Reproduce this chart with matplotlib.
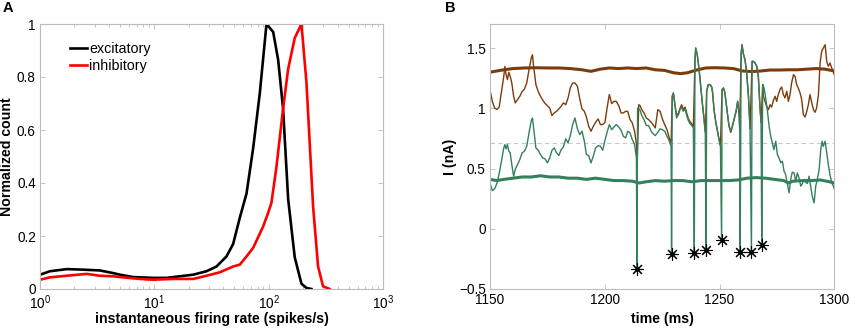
import numpy as np
import matplotlib
matplotlib.use("Agg")
import matplotlib.pyplot as plt
from matplotlib.ticker import NullFormatter, LogLocator

plt.rcParams['font.family'] = ['Liberation Sans', 'DejaVu Sans']
plt.rcParams['mathtext.fontset'] = 'custom'
plt.rcParams['mathtext.rm'] = 'Liberation Sans'
plt.rcParams['mathtext.it'] = 'Liberation Sans'

# ---------------- Panel A data ----------------
exc_rate = [1.0, 1.223, 1.71, 2.39, 3.34, 4.37, 5.0, 6.54, 9.78, 12.8, 16.7, 21.9, 28.6, 35.0,
            42.8, 48.9, 56.0, 64.0, 73.1, 83.7, 95.7, 109.5, 121, 133.7, 148, 169, 193.5, 214, 236.6]
exc_count = [0.054, 0.067, 0.075, 0.073, 0.070, 0.060, 0.054, 0.045, 0.042, 0.042, 0.048, 0.054,
             0.067, 0.085, 0.123, 0.17, 0.27, 0.36, 0.53, 0.74, 1.0, 0.97, 0.865, 0.68, 0.34,
             0.12, 0.02, 0.004, 0.0]
inh_rate = [1.0, 1.223, 1.71, 2.56, 3.34, 4.37, 5.0, 7.48, 9.78, 14.6, 21.9, 28.6, 37.4, 48.9,
            56.0, 64.0, 73.1, 89.5, 98.9, 105.7, 116.9, 133.7, 148, 169, 193.5, 214, 244.8,
            270.5, 299, 342]
inh_count = [0.035, 0.044, 0.050, 0.057, 0.050, 0.048, 0.045, 0.038, 0.035, 0.038, 0.038, 0.050,
             0.063, 0.085, 0.092, 0.123, 0.155, 0.236, 0.287, 0.325, 0.46, 0.68, 0.83, 0.947,
             1.0, 0.78, 0.31, 0.085, 0.01, 0.0]

# ---------------- Panel B data ----------------
green_t = [1150.0, 1151.0, 1152.0, 1153.0, 1154.0, 1155.0, 1156.0, 1156.5, 1157.0, 1157.6, 1158.2,
           1158.8, 1159.5, 1160.3, 1161.0, 1162.0, 1163.0, 1164.0, 1165.0, 1166.0, 1167.0, 1168.0,
           1168.5, 1169.0, 1170.0, 1171.0, 1172.0, 1173.0, 1174.0, 1175.0, 1176.0, 1177.0, 1178.0,
           1179.0, 1180.0, 1181.0, 1182.0, 1183.0, 1184.0, 1185.0, 1186.0, 1187.0, 1188.1, 1189.1,
           1190.1, 1191.1, 1192.0, 1193.0, 1194.0, 1195.0, 1196.0, 1197.1, 1198.1, 1199.1, 1200.1,
           1201.0, 1202.0, 1203.0, 1204.0, 1205.0, 1206.1, 1207.1, 1208.1, 1209.1, 1210.0, 1211.0,
           1212.0, 1213.0, 1213.8, 1214.3, 1215.4, 1216.1, 1217.1, 1218.1, 1219.1, 1220.2, 1221.0,
           1222.0, 1223.1, 1224.1, 1225.1, 1226.1, 1227.1, 1228.1, 1228.9, 1229.4, 1229.9, 1230.6,
           1231.3, 1232.1, 1232.8, 1233.5, 1234.2, 1235.0, 1235.7, 1236.4, 1237.1, 1237.9, 1238.6,
           1239.3, 1239.6, 1240.3, 1241.1, 1241.8, 1242.5, 1243.2, 1243.8, 1244.4, 1245.1, 1245.9,
           1246.6, 1247.0, 1247.6, 1248.3, 1249.1, 1249.8, 1250.4, 1251.1, 1251.7, 1252.2, 1252.8,
           1253.4, 1254.1, 1254.9, 1255.6, 1256.3, 1257.2, 1257.9, 1258.5, 1258.8, 1259.4, 1259.8,
           1260.4, 1261.1, 1261.8, 1262.6, 1263.3, 1264.2, 1264.7, 1265.5, 1266.2, 1266.9, 1267.6,
           1268.1, 1268.8, 1269.4, 1270.1, 1270.8, 1271.6, 1272.3, 1273.0, 1273.7, 1274.5, 1275.2,
           1275.9, 1276.7, 1277.4, 1278.1, 1278.8, 1279.6, 1280.3, 1281.0, 1281.7, 1282.5, 1283.2,
           1283.9, 1284.6, 1285.4, 1286.1, 1286.8, 1287.5, 1288.3, 1289.0, 1289.7, 1290.4, 1291.2,
           1291.9, 1292.6, 1293.4, 1294.1, 1294.7, 1295.2, 1296.0, 1296.7, 1297.4, 1298.1, 1298.9,
           1299.6, 1300.0]
green_I = [0.381, 0.317, 0.331, 0.376, 0.459, 0.561, 0.671, 0.699, 0.663, 0.699, 0.644,
           0.630, 0.533, 0.436, 0.492, 0.533, 0.575, 0.630, 0.644, 0.685, 0.796, 0.900,
           0.920, 0.837, 0.671, 0.652, 0.616, 0.588, 0.580, 0.547, 0.588, 0.652, 0.671,
           0.630, 0.608, 0.657, 0.680, 0.746, 0.713, 0.774, 0.865, 0.920, 0.829, 0.782,
           0.810, 0.727, 0.616, 0.608, 0.547, 0.602, 0.671, 0.690, 0.685, 0.652, 0.735,
           0.801, 0.865, 0.823, 0.845, 0.865, 0.845, 0.818, 0.768, 0.754, 0.810, 0.796,
           0.740, 0.699, 0.588, 1.003, 0.984, 0.940, 0.906, 0.857, 0.857, 0.810, 0.790,
           0.774, 0.801, 0.830, 0.823, 0.810, 0.768, 0.727, 0.685, 1.100, 1.127, 1.017,
           0.920, 0.948, 0.990, 1.010, 0.975, 0.995, 0.940, 0.900, 0.873, 0.857, 0.837,
           1.400, 1.500, 1.445, 1.320, 1.183, 1.045, 0.920, 0.796, 1.141, 1.197, 1.197,
           1.177, 1.127, 0.989, 0.893, 0.810, 0.740, 0.685, 1.155, 1.169, 1.141, 1.058,
           0.962, 0.851, 0.810, 0.851, 0.906, 0.975, 1.058, 0.962, 0.823, 1.450, 1.528,
           1.450, 1.404, 1.300, 1.100, 0.820, 1.390, 1.390, 1.376, 1.349, 1.266, 1.017,
           0.879, 1.197, 1.169, 1.086, 0.989, 0.851, 0.768, 0.713, 0.657, 0.727, 0.616,
           0.588, 0.547, 0.560, 0.478, 0.450, 0.367, 0.298, 0.409, 0.470, 0.464, 0.395,
           0.464, 0.423, 0.354, 0.376, 0.409, 0.387, 0.376, 0.436, 0.354, 0.270, 0.215,
           0.354, 0.409, 0.492, 0.657, 0.727, 0.685, 0.727, 0.630, 0.533, 0.450, 0.381,
           0.354, 0.330]

spike_t = [1214.0, 1229.1, 1239.0, 1244.1, 1250.9, 1259.0, 1263.9, 1268.4]
spike_I = [-0.332, -0.213, -0.205, -0.177, -0.097, -0.190, -0.194, -0.136]

brown_t = [1150.0, 1151.0, 1152.0, 1153.0, 1154.0, 1155.0, 1156.0, 1156.5, 1157.0, 1157.6, 1158.2,
           1158.8, 1159.5, 1160.3, 1161.0, 1162.0, 1163.0, 1164.0, 1165.0, 1166.0, 1167.0, 1168.0,
           1168.5, 1169.0, 1170.0, 1171.0, 1172.0, 1173.0, 1174.0, 1175.0, 1176.0, 1177.0, 1178.0,
           1179.0, 1180.0, 1181.0, 1182.0, 1183.0, 1184.0, 1185.0, 1186.0, 1187.0, 1188.1, 1189.1,
           1190.1, 1191.1, 1192.0, 1193.0, 1194.0, 1195.0, 1196.0, 1197.1, 1198.1, 1199.1, 1200.1,
           1201.0, 1202.0, 1203.0, 1204.0, 1205.0, 1206.1, 1207.1, 1208.1, 1209.1, 1210.0, 1211.0,
           1212.0, 1213.0, 1213.8, 1214.2, 1214.8, 1215.4, 1216.1, 1217.1, 1218.1, 1219.1, 1220.2,
           1221.0, 1222.0, 1223.1, 1224.1, 1225.1, 1226.1, 1227.1, 1228.1, 1228.9, 1229.4, 1229.9,
           1230.6, 1231.3, 1232.1, 1232.8, 1233.5, 1234.2, 1235.0, 1235.7, 1236.4, 1237.1, 1237.9,
           1238.6, 1239.3, 1239.6, 1240.3, 1241.1, 1241.8, 1242.5, 1243.2, 1243.8, 1244.4, 1245.1,
           1245.9, 1246.6, 1247.0, 1247.6, 1248.3, 1249.1, 1249.8, 1250.4, 1251.1, 1251.7, 1252.2,
           1252.8, 1253.4, 1254.1, 1254.9, 1255.6, 1256.3, 1257.2, 1257.9, 1258.5, 1258.8, 1259.4,
           1259.8, 1260.4, 1261.1, 1261.8, 1262.6, 1263.3, 1264.2, 1264.7, 1265.5, 1266.2, 1266.9,
           1267.6, 1268.1, 1268.8, 1269.1, 1269.8, 1270.5, 1271.3, 1272.0, 1272.7, 1273.5, 1274.2,
           1274.9, 1275.6, 1276.4, 1277.1, 1277.8, 1278.5, 1279.3, 1280.0, 1280.7, 1281.4, 1282.2,
           1282.9, 1283.6, 1284.3, 1285.1, 1285.8, 1286.5, 1287.3, 1288.0, 1288.7, 1289.4, 1290.2,
           1290.9, 1291.6, 1292.3, 1293.1, 1293.8, 1294.5, 1295.2, 1296.0, 1296.7, 1297.4, 1298.1,
           1298.9, 1299.6, 1300.0]
brown_I = [1.155, 1.058, 1.003, 0.990, 1.010, 1.140, 1.265, 1.348, 1.280, 1.238, 1.299,
           1.266, 1.210, 1.100, 1.045, 1.072, 1.100, 1.140, 1.160, 1.210, 1.320, 1.418,
           1.445, 1.348, 1.197, 1.140, 1.100, 1.067, 1.040, 1.022, 1.003, 0.940, 0.962,
           0.975, 0.995, 1.017, 1.045, 1.030, 1.086, 1.170, 1.210, 1.210, 1.183, 1.078,
           0.995, 0.975, 0.928, 0.851, 0.810, 0.851, 0.884, 0.912, 0.865, 0.865, 0.884,
           1.003, 1.114, 1.039, 1.058, 1.058, 1.022, 0.962, 0.962, 0.975, 0.975, 0.906,
           0.879, 0.810, 0.699, 0.602, 1.030, 1.022, 0.989, 0.962, 0.920, 0.906, 0.884,
           0.865, 0.837, 0.989, 0.975, 0.912, 0.865, 0.823, 0.754, 0.713, 1.100, 1.127,
           1.030, 0.940, 0.960, 1.000, 1.030, 0.990, 1.010, 0.960, 0.915, 0.890, 0.870,
           0.850, 1.400, 1.500, 1.445, 1.320, 1.183, 1.045, 0.920, 0.800, 1.141, 1.197,
           1.197, 1.177, 1.127, 0.989, 0.893, 0.810, 0.740, 0.690, 1.155, 1.169, 1.141,
           1.058, 0.962, 0.860, 0.800, 0.851, 0.906, 0.975, 1.058, 0.962, 0.830, 1.450,
           1.528, 1.450, 1.404, 1.300, 1.100, 0.830, 1.390, 1.390, 1.376, 1.349, 1.266,
           1.017, 0.880, 1.197, 1.100, 1.058, 1.017, 0.989, 1.030, 1.010, 1.067, 1.100,
           1.058, 1.114, 1.160, 1.177, 1.114, 1.086, 1.141, 1.058, 1.114, 1.210, 1.279,
           1.266, 1.197, 1.169, 1.127, 1.072, 0.948, 0.928, 0.975, 1.030, 1.114, 1.045,
           0.989, 0.967, 1.003, 1.114, 1.376, 1.473, 1.500, 1.528, 1.390, 1.349, 1.376,
           1.335, 1.299, 1.279]

brown_mean_t = [1150, 1153, 1156, 1160, 1165, 1170, 1175, 1180, 1185, 1190, 1194, 1198, 1202, 1206,
                1210, 1214, 1218, 1222, 1226, 1230, 1233, 1236, 1240, 1244, 1248, 1252, 1256, 1260,
                1264, 1268, 1272, 1276, 1280, 1284, 1288, 1292, 1296, 1300]
brown_mean_I = [1.300, 1.310, 1.320, 1.330, 1.335, 1.337, 1.335, 1.335, 1.330, 1.320, 1.307, 1.325,
                1.335, 1.330, 1.335, 1.330, 1.335, 1.320, 1.315, 1.295, 1.288, 1.295, 1.318, 1.335,
                1.337, 1.335, 1.330, 1.310, 1.305, 1.310, 1.318, 1.318, 1.320, 1.320, 1.325, 1.330,
                1.325, 1.310]
green_mean_t = [1150, 1153, 1156, 1160, 1164, 1168, 1172, 1176, 1180, 1184, 1188, 1192, 1196, 1200,
                1204, 1208, 1212, 1215, 1218, 1222, 1226, 1230, 1234, 1238, 1242, 1246, 1250, 1254,
                1258, 1262, 1266, 1270, 1274, 1278, 1280, 1282, 1286, 1290, 1294, 1298, 1300]
green_mean_I = [0.410, 0.400, 0.410, 0.420, 0.430, 0.430, 0.440, 0.430, 0.430, 0.420, 0.420, 0.410,
                0.420, 0.410, 0.400, 0.400, 0.395, 0.380, 0.390, 0.400, 0.395, 0.400, 0.400, 0.390,
                0.400, 0.400, 0.400, 0.400, 0.405, 0.420, 0.425, 0.420, 0.410, 0.400, 0.380, 0.395,
                0.400, 0.400, 0.405, 0.390, 0.380]
threshold = 0.715

BROWN = '#7a3c0c'
GREEN = '#34805c'
SPINE = '#bdbdbd'

fig = plt.figure(figsize=(8.5, 3.29), dpi=100)
axA = fig.add_axes([40/850, 1-289/329, 343/850, 265/329])
axB = fig.add_axes([490/850, 1-289/329, 344.3/850, 265/329])

def style(ax):
    for s in ax.spines.values():
        s.set_color(SPINE)
        s.set_linewidth(0.8)
    ax.tick_params(which='both', direction='in', top=True, right=True, color=SPINE,
                   labelsize=9.8, labelcolor='black', pad=3)
    ax.tick_params(which='major', length=3.5, width=0.6)
    ax.tick_params(which='minor', length=2, width=0.6)

# Panel A
axA.plot(exc_rate, exc_count, color='black', lw=1.9, label='excitatory')
axA.plot(inh_rate, inh_count, color='#ff0000', lw=1.9, label='inhibitory')
axA.set_xscale('log')
axA.set_xlim(1, 1000)
axA.set_ylim(0, 1)
axA.set_xticks([1, 10, 100, 1000])
axA.set_xticklabels([r'$\mathregular{10^{0}}$', r'$\mathregular{10^{1}}$',
                     r'$\mathregular{10^{2}}$', r'$\mathregular{10^{3}}$'])
axA.xaxis.set_minor_locator(LogLocator(base=10, subs=np.arange(2, 10)))
axA.xaxis.set_minor_formatter(NullFormatter())
axA.set_yticks([0, 0.2, 0.4, 0.6, 0.8, 1])
axA.set_yticklabels(['0', '0.2', '0.4', '0.6', '0.8', '1'])
style(axA)
axA.set_xlabel('instantaneous firing rate (spikes/s)', fontsize=10.2, fontweight='bold')
axA.xaxis.set_label_coords(0.5, -0.088)
axA.set_ylabel('Normalized count', fontsize=10.2, fontweight='bold')
axA.yaxis.set_label_coords(-0.075, 0.5)
axA.legend(loc='upper left', bbox_to_anchor=(0.07, 0.955), frameon=False, fontsize=10.3,
           handlelength=1.2, handletextpad=0.15, labelspacing=0.2, borderaxespad=0)

# Panel B
axB.plot(brown_mean_t, brown_mean_I, color=BROWN, lw=2.2)
axB.plot(green_mean_t, green_mean_I, color=GREEN, lw=2.2)
axB.axhline(threshold, color='#c8c8c8', lw=0.8, ls=(0, (4, 3)))
axB.plot(brown_t, brown_I, color=BROWN, lw=1.0)
gt = np.array(green_t + spike_t)
gI = np.array(green_I + spike_I)
order = np.argsort(gt, kind='stable')
axB.plot(gt[order], gI[order], color=GREEN, lw=1.0)
axB.plot(spike_t, spike_I, ls='none', marker=(8, 2, 0), ms=9, mew=0.8, color='black')
axB.plot(spike_t, spike_I, ls='none', marker='o', ms=2.2, color='black')
axB.set_xlim(1150, 1300)
axB.set_ylim(-0.5, 1.7)
axB.set_xticks([1150, 1200, 1250, 1300])
axB.set_yticks([-0.5, 0, 0.5, 1, 1.5])
axB.set_yticklabels(['\u22120.5', '0', '0.5', '1', '1.5'])
style(axB)
axB.set_xlabel('time (ms)', fontsize=10.2, fontweight='bold')
axB.xaxis.set_label_coords(0.5, -0.088)
axB.set_ylabel('I (nA)', fontsize=10.2, fontweight='bold')
axB.yaxis.set_label_coords(-0.097, 0.5)

fig.text(3/850, 1-8/329, 'A', fontsize=10.5, fontweight='bold', va='center', ha='left')
fig.text(445/850, 1-8/329, 'B', fontsize=10.5, fontweight='bold', va='center', ha='left')

fig.savefig('out.png', dpi=100)
